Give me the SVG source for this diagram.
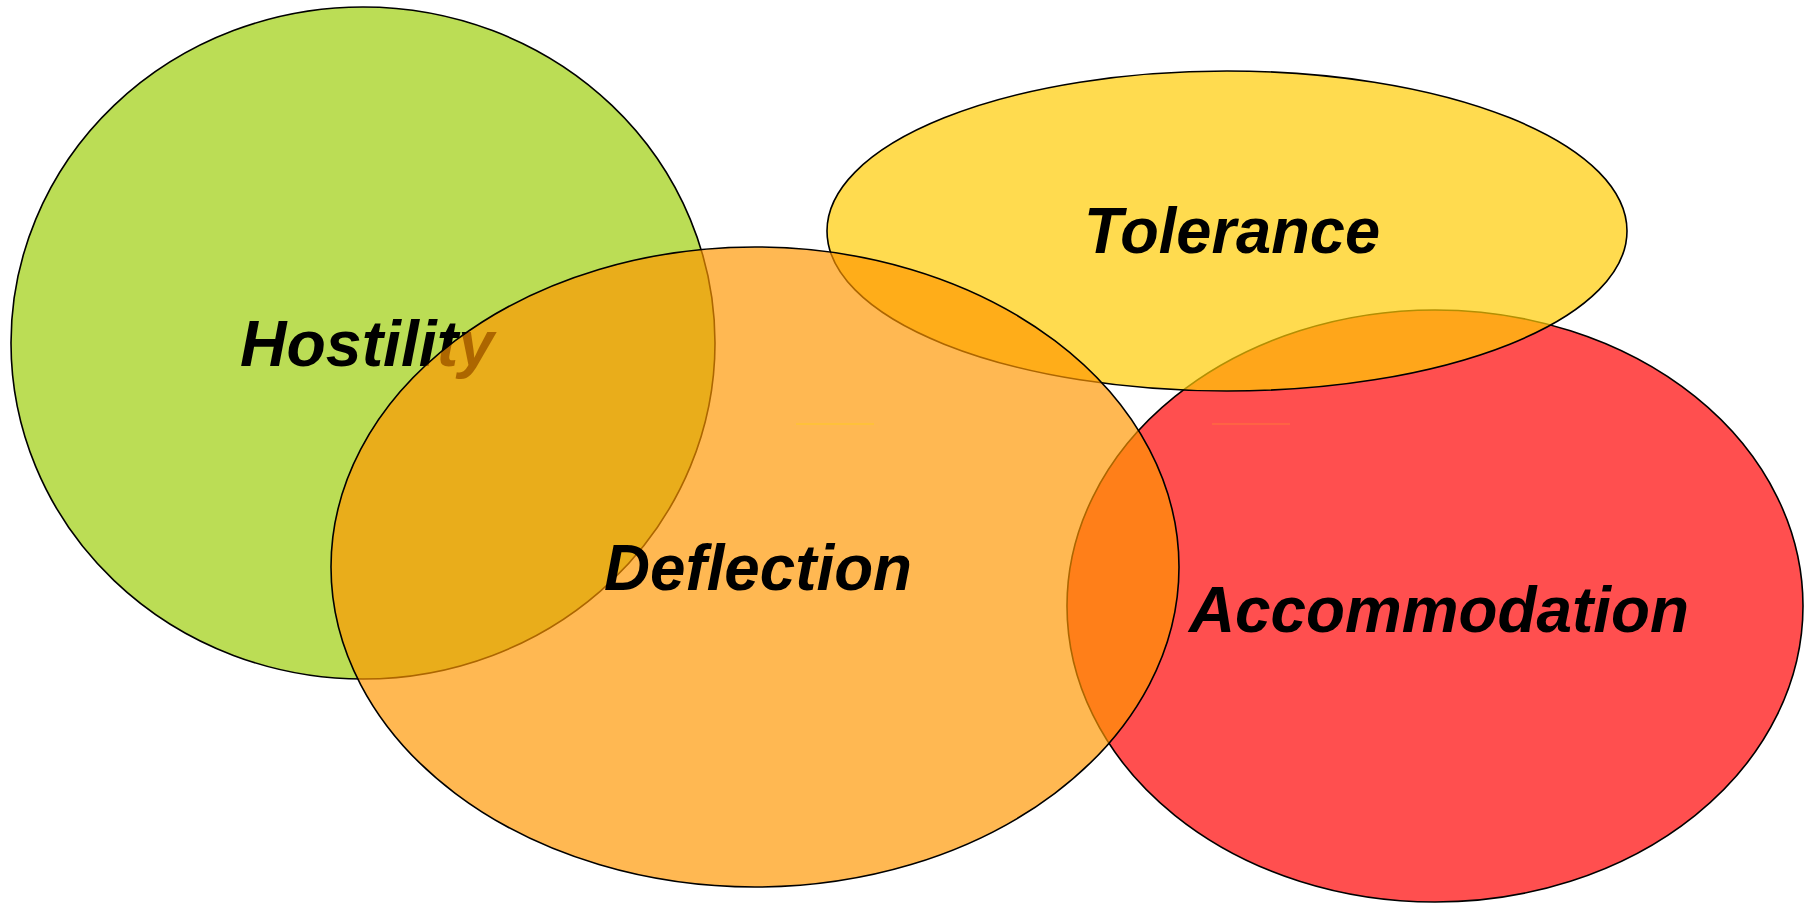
<svg xmlns="http://www.w3.org/2000/svg" width="1810" height="904" viewBox="0 0 1810 904">
<style>
.lbl{font-family:"Liberation Sans",Arial,sans-serif;font-weight:bold;font-style:italic;font-size:64px;fill:#000;text-anchor:middle}
.outline{stroke:#000;stroke-width:1.6}
</style>
<rect width="1810" height="904" fill="#fff"/>
<g id="hostility">
<ellipse class="outline" cx="363" cy="343" rx="352" ry="336" fill="#BBDD55"/>
<text class="lbl" x="367" y="366" textLength="254" lengthAdjust="spacingAndGlyphs">Hostility</text>
</g>
<g id="accommodation">
<ellipse class="outline" cx="1435" cy="606" rx="368" ry="296" fill="#FF4F4F"/>
</g>
<g id="tolerance">
<ellipse class="outline" cx="1227" cy="231" rx="400" ry="160" fill="#FFCC04" fill-opacity="0.7"/>
<text class="lbl" x="1232" y="253" textLength="296" lengthAdjust="spacingAndGlyphs">Tolerance</text>
</g>
<g id="deflection">
<ellipse class="outline" cx="755" cy="567" rx="424" ry="320" fill="#FF9600" fill-opacity="0.68"/>
<text class="lbl" x="758" y="590" textLength="308" lengthAdjust="spacingAndGlyphs">Deflection</text>
</g>
<g id="accommodation-label">
<text class="lbl" x="1439" y="632" textLength="500" lengthAdjust="spacingAndGlyphs">Accommodation</text>
</g>
<g id="connectors">
<line x1="796" y1="424" x2="874" y2="424" stroke="#FFC433" stroke-width="1.5"/>
<line x1="1212" y1="424" x2="1290" y2="424" stroke="#FF6A40" stroke-width="1.5"/>
</g>
</svg>
